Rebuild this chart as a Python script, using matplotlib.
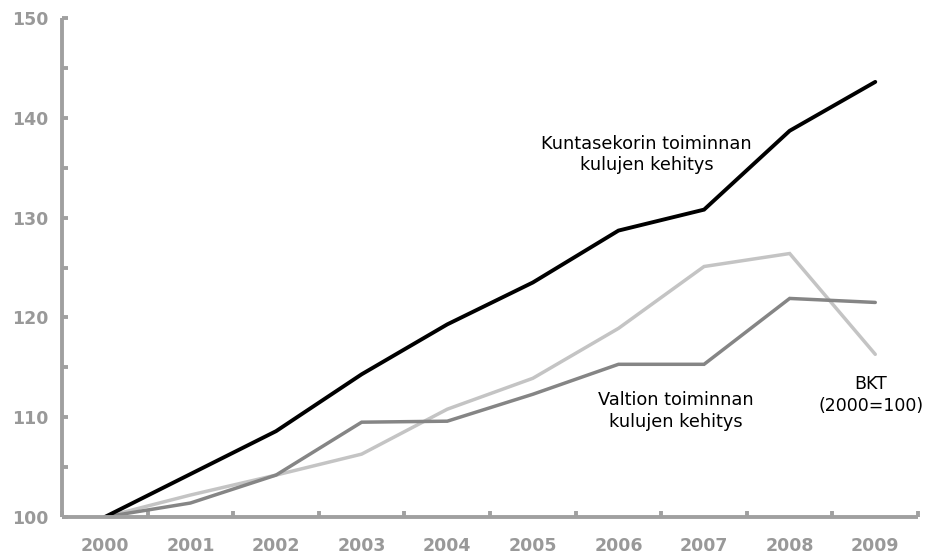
import matplotlib.pyplot as plt
import numpy as np

years = ['2000', '2001', '2002', '2003', '2004', '2005', '2006', '2007', '2008', '2009']
kunta = [100, 104.3, 108.6, 114.3, 119.3, 123.5, 128.7, 130.8, 138.7, 143.6]
valtio = [100, 101.4, 104.2, 109.5, 109.6, 112.3, 115.3, 115.3, 121.9, 121.5]
bkt = [100, 102.2, 104.2, 106.3, 110.8, 113.9, 118.9, 125.1, 126.4, 116.3]

axis_col = '#a0a0a0'

fig = plt.figure(figsize=(9.33, 5.58), dpi=100)
ax = fig.add_axes([0.0665, 0.0735, 0.9175, 0.8942])

x = np.arange(len(years))
ax.plot(x, bkt, color='#c4c4c4', lw=2.5, solid_capstyle='round', solid_joinstyle='miter')
ax.plot(x, valtio, color='#858585', lw=2.5, solid_capstyle='round', solid_joinstyle='miter')
ax.plot(x, kunta, color='black', lw=2.8, solid_capstyle='round', solid_joinstyle='miter')

ax.set_xlim(-0.5, 9.5)
ax.set_ylim(100, 150)

for s in ['top', 'right']:
    ax.spines[s].set_visible(False)
for s in ['left', 'bottom']:
    ax.spines[s].set_color(axis_col)
    ax.spines[s].set_linewidth(2.8)
    ax.spines[s].set_capstyle('butt')

ax.set_xticks(x)
ax.set_xticklabels(years)
ax.set_xticks(np.arange(-0.5, 10, 1), minor=True)
ax.tick_params(axis='x', which='major', length=0, pad=14.5)
ax.tick_params(axis='x', which='minor', direction='in', length=4.5, width=2.8, color=axis_col)

ax.set_yticks(np.arange(100, 151, 10))
ax.set_yticks(np.arange(105, 150, 10), minor=True)
ax.tick_params(axis='y', which='major', direction='in', length=4.5, width=2.8, color=axis_col, pad=10)
ax.tick_params(axis='y', which='minor', direction='in', length=4.5, width=2.8, color=axis_col)

for lab in ax.get_xticklabels() + ax.get_yticklabels():
    lab.set_fontsize(12.5)
    lab.set_fontweight('bold')
    lab.set_color('#999999')

ax.text(6.33, 136.3, 'Kuntasekorin toiminnan\nkulujen kehitys', ha='center', va='center',
        fontsize=12.8, linespacing=1.25)
ax.text(6.67, 110.6, 'Valtion toiminnan\nkulujen kehitys', ha='center', va='center',
        fontsize=12.8, linespacing=1.25)
ax.text(8.95, 112.2, 'BKT\n(2000=100)', ha='center', va='center',
        fontsize=12.5, linespacing=1.25)

fig.savefig('out.png', dpi=100)
